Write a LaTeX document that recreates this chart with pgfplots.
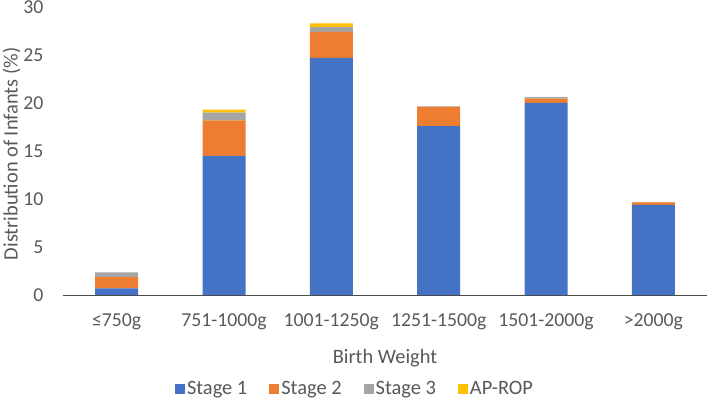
\documentclass[border=0pt]{standalone}
\usepackage{pgfplots}
\pgfplotsset{compat=1.18}
\usepackage{pgfplotstable}
\usepackage{fontspec}
\setmainfont{Carlito}
\definecolor{sblue}{HTML}{4472C4}
\definecolor{sorange}{HTML}{ED7D31}
\definecolor{sgray}{HTML}{A5A5A5}
\definecolor{syellow}{HTML}{FFC000}
\definecolor{txt}{HTML}{595959}
\newcommand\fs{\fontsize{20.5}{24}\selectfont}
\newcommand\tfs{\fontsize{19.8}{23}\selectfont}

% x  stage1 stage2 stage3 aprop
\pgfplotstableread{
x s1 s2 s3 ap
0 0.7 1.15 0.5 0
1 14.5 3.7 0.8 0.3
2 24.7 2.7 0.5 0.4
3 17.6 2.0 0.05 0
4 20.0 0.45 0.15 0
5 9.4 0.25 0.05 0
}\rop

\begin{document}
\begin{tikzpicture}
\useasboundingbox (0,0) rectangle (708bp,403bp);
\begin{axis}[
  at={(63bp,108bp)}, anchor=south west,
  scale only axis, width=644bp, height=288bp,
  ybar stacked, bar width=43bp,
  xmin=-0.5, xmax=5.5, ymin=0, ymax=30,
  xtick=data,
  xticklabels={≤750g,751-1000g,1001-1250g,1251-1500g,1501-2000g,>2000g},
  ytick={0,5,...,30},
  axis x line*=bottom, axis y line*=left,
  x axis line style={draw=black!70, line width=0.9bp, -},
  y axis line style={draw=none},
  major tick length=0pt,
  /pgf/number format/assume math mode=true,
  tick label style={font=\tfs, text=txt},
  xticklabel style={anchor=center, yshift=-27bp},
  yticklabel style={anchor=east, xshift=-16bp},
  xlabel={Birth Weight},
  ylabel={Distribution of Infants (\%)},
  label style={font=\fs, text=txt},
  xlabel style={at={(axis description cs:0.5,-0.219)}, anchor=center},
  ylabel style={at={(axis description cs:-0.08,0.49)}, anchor=center, rotate=0},
  legend columns=-1,
  legend style={at={(axis description cs:0.4534,-0.326)}, anchor=center,
    draw=none, font=\fs, text=txt,
    /tikz/every even column/.append style={column sep=20bp},
    nodes={inner sep=2bp}},
  legend image code/.code={\fill[#1] (0bp,-5bp) rectangle (10bp,5bp);},
]
\addplot[fill=sblue, draw=none] table[x=x, y=s1] {\rop};
\addplot[fill=sorange, draw=none] table[x=x, y=s2] {\rop};
\addplot[fill=sgray, draw=none] table[x=x, y=s3] {\rop};
\addplot[fill=syellow, draw=none] table[x=x, y=ap] {\rop};
\legend{Stage 1,Stage 2,Stage 3,AP-ROP}
\end{axis}
\end{tikzpicture}
\end{document}
